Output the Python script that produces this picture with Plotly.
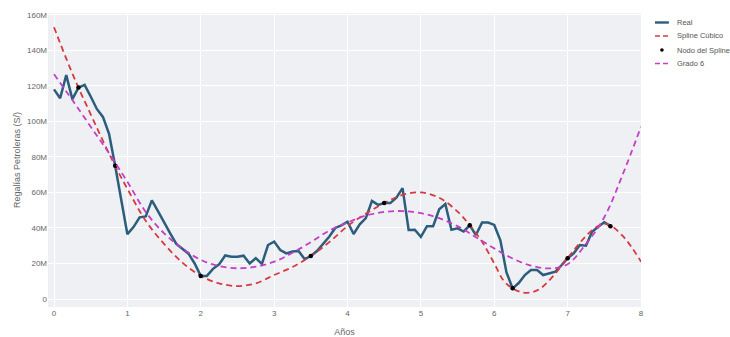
import plotly.graph_objects as go

# Monthly royalties (millions of soles), month 0 .. 91
months = list(range(92))
real_m = [
    118, 113, 126, 112.5, 119, 120.5, 114, 107, 102.5, 93, 75, 55,
    36.5, 40.5, 46, 46.5, 55.5, 49.5, 43, 37, 31, 28.5, 25.5, 20,
    13, 13, 17, 19.5, 24.5, 23.8, 23.8, 24.4, 20, 23, 19.7, 30.4,
    32.3, 27.6, 25.7, 26.7, 27, 22.4, 24.2, 27, 31, 35, 40, 41.5,
    43.5, 36.6, 42, 45.5, 55.2, 53, 54, 54, 57, 62.4, 38.9, 39,
    35, 41, 41, 50.5, 53.5, 39, 39.8, 38, 41.5, 36, 43, 43,
    41.7, 33, 15, 6, 9, 13.5, 16.3, 16.3, 13.5, 14.5, 15.4, 19,
    23, 25.7, 30.4, 30, 37.9, 40.7, 43.2, 41,
]

# Spline knots (month indices)
node_months = [4, 10, 24, 42, 54, 68, 75, 84, 91]

# Cubic spline curve (years, millions)
spline_t = [0, 0.17, 0.333, 0.5, 0.667, 0.833, 1.0, 1.25, 1.5, 1.75, 2.0, 2.25,
            2.5, 2.75, 3.0, 3.25, 3.5, 3.75, 4.0, 4.25, 4.5, 4.75, 5.0, 5.25,
            5.5, 5.667, 5.83, 6.0, 6.125, 6.25, 6.375, 6.5, 6.625, 6.75, 6.875,
            7.0, 7.125, 7.25, 7.375, 7.5, 7.583, 7.75, 7.875, 8.0]
spline_m = [153, 135, 119, 104, 89, 75, 62, 44, 31, 20.5, 13, 8.8,
            7.3, 8.8, 13.5, 18, 24.2, 32, 41, 48, 54, 58.6, 60, 57,
            49.2, 41.5, 32.5, 20, 10.5, 6, 3.8, 3.7, 5.8, 10.5, 16.5,
            23, 29.5, 35.5, 40, 42.3, 41.5, 35.5, 29, 21]

# Degree-6 polynomial curve (years, millions)
poly_t = [0, 0.25, 0.5, 0.75, 1.0, 1.25, 1.5, 1.75, 2.0, 2.25, 2.5, 2.75,
          3.0, 3.25, 3.5, 3.75, 4.0, 4.25, 4.5, 4.75, 5.0, 5.25, 5.5, 5.75,
          6.0, 6.25, 6.5, 6.75, 7.0, 7.25, 7.5, 7.75, 8.0]
poly_m = [126.5, 112, 97, 82, 66, 49, 37, 28.5, 22, 18.5, 17.3, 18.2,
          21, 26, 32, 38.5, 43, 47, 49, 49.5, 48.3, 45.5, 41, 34.8,
          28.5, 22.8, 18.8, 17.2, 19.6, 31, 46, 70, 97]

y_ticks = [0, 20e6, 40e6, 60e6, 80e6, 100e6, 120e6, 140e6, 160e6]
y_labels = ["0", "20M", "40M", "60M", "80M", "100M", "120M", "140M", "160M"]
x_ticks = [0, 1, 2, 3, 4, 5, 6, 7, 8]

COL_REAL = "#2b5e7c"
COL_SPLINE = "#d63a3f"
COL_POLY = "#c43ec8"
FONT = "Liberation Sans, Arial, sans-serif"

M = 1e6
years = [m / 12 for m in months]
real = [v * M for v in real_m]
node_x = [m / 12 for m in node_months]
node_y = [real_m[m] * M for m in node_months]

fig = go.Figure()
fig.add_trace(go.Scatter(x=years, y=real, mode="lines", name="Real",
                         line=dict(color=COL_REAL, width=2.5)))
fig.add_trace(go.Scatter(x=spline_t, y=[v * M for v in spline_m], mode="lines",
                         name="Spline Cúbico", line_shape="spline",
                         line=dict(color=COL_SPLINE, width=1.8, dash="6px,4px")))
fig.add_trace(go.Scatter(x=node_x, y=node_y, mode="markers", name="Nodo del Spline",
                         marker=dict(color="black", size=4.5)))
fig.add_trace(go.Scatter(x=poly_t, y=[v * M for v in poly_m], mode="lines",
                         name="Grado 6", line_shape="spline",
                         line=dict(color=COL_POLY, width=1.8, dash="6px,4px")))

# Compact legend at the right of the plot area (paper coordinates)
legend_rows = [
    ("Real", "line", COL_REAL, "solid", 0.9677),
    ("Spline Cúbico", "line", COL_SPLINE, "5px,3px", 0.9218),
    ("Nodo del Spline", "dot", "black", None, 0.8741),
    ("Grado 6", "line", COL_POLY, "5px,3px", 0.8282),
]
shapes = []
annotations = []
for label, kind, color, dash, yp in legend_rows:
    if kind == "line":
        shapes.append(dict(type="line", xref="paper", yref="paper",
                           x0=1.0236, x1=1.0470, y0=yp, y1=yp,
                           line=dict(color=color, width=2.4 if dash == "solid" else 1.6,
                                     dash=dash)))
    else:
        shapes.append(dict(type="circle", xref="paper", yref="paper",
                           xsizemode="pixel", ysizemode="pixel",
                           xanchor=1.0353, yanchor=yp, x0=-1.8, x1=1.8, y0=-1.8, y1=1.8,
                           fillcolor=color, line=dict(color=color, width=0)))
    annotations.append(dict(text=label, xref="paper", yref="paper",
                            x=1.0565, y=yp, xanchor="left", yanchor="middle",
                            showarrow=False, font=dict(size=7.5, color="#555")))

fig.update_layout(
    width=730, height=337,
    margin=dict(l=48, r=89, t=13, b=30, autoexpand=False),
    paper_bgcolor="white",
    plot_bgcolor="#eff0f4",
    font=dict(family=FONT, size=8, color="#666"),
    showlegend=False,
    shapes=shapes,
    annotations=annotations,
)
fig.update_xaxes(range=[-0.082, 8.0], tickvals=x_ticks, showgrid=True,
                 gridcolor="white", gridwidth=1, zeroline=False, automargin=False,
                 title=dict(text="Años", font=dict(size=9, color="#666"), standoff=13),
                 ticks="", tickfont=dict(size=8, color="#666"))
fig.update_yaxes(range=[-4.5e6, 161e6], tickvals=y_ticks, ticktext=y_labels,
                 showgrid=True, gridcolor="white", gridwidth=1, zeroline=False,
                 automargin=False,
                 title=dict(text="Regalías Petroleras (S/)", font=dict(size=9, color="#666"),
                            standoff=4),
                 ticks="", tickfont=dict(size=8, color="#666"))

fig.write_html("out.html")
